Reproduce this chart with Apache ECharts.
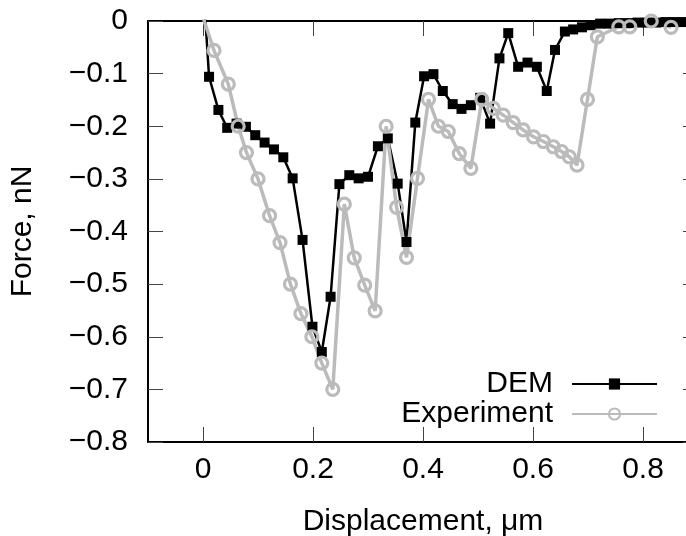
<!DOCTYPE html>
<html>
<head>
<meta charset="utf-8">
<script src="https://cdn.jsdelivr.net/npm/echarts@6/dist/echarts.min.js"></script>
<style>html,body{margin:0;padding:0;background:#fff}#c{width:686px;height:536px}</style>
</head>
<body>
<div id="c"></div>
<script>
var demX = [0.004, 0.011, 0.028, 0.044, 0.061, 0.078, 0.095, 0.112, 0.129, 0.146, 0.163, 0.181, 0.199, 0.216, 0.232, 0.248, 0.266, 0.283, 0.300, 0.318, 0.336, 0.354, 0.370, 0.386, 0.402, 0.419, 0.436, 0.454, 0.470, 0.487, 0.504, 0.522, 0.539, 0.555, 0.573, 0.590, 0.607, 0.625, 0.640, 0.658, 0.673, 0.689, 0.705, 0.722, 0.739, 0.756, 0.773, 0.790, 0.807, 0.824, 0.841, 0.858, 0.875, 0.892];
var demY = [0.01, -0.106, -0.169, -0.203, -0.195, -0.201, -0.217, -0.231, -0.244, -0.259, -0.299, -0.416, -0.581, -0.629, -0.524, -0.310, -0.293, -0.299, -0.296, -0.238, -0.223, -0.309, -0.420, -0.193, -0.105, -0.101, -0.133, -0.158, -0.167, -0.160, -0.146, -0.195, -0.071, -0.023, -0.087, -0.079, -0.087, -0.133, -0.055, -0.020, -0.016, -0.012, -0.008, -0.005, -0.005, -0.004, -0.004, -0.003, -0.003, -0.003, -0.002, -0.002, -0.002, -0.002];
var expX = [-0.001, 0.020, 0.046, 0.064, 0.079, 0.100, 0.121, 0.140, 0.159, 0.178, 0.198, 0.216, 0.236, 0.257, 0.275, 0.294, 0.313, 0.333, 0.352, 0.370, 0.390, 0.410, 0.428, 0.446, 0.466, 0.487, 0.507, 0.528, 0.546, 0.564, 0.582, 0.601, 0.619, 0.637, 0.652, 0.666, 0.680, 0.699, 0.717, 0.756, 0.776, 0.815, 0.851];
var expY = [0.01, -0.056, -0.120, -0.200, -0.250, -0.300, -0.370, -0.421, -0.500, -0.556, -0.600, -0.650, -0.700, -0.348, -0.450, -0.502, -0.551, -0.200, -0.354, -0.449, -0.299, -0.149, -0.200, -0.210, -0.252, -0.280, -0.149, -0.166, -0.179, -0.193, -0.207, -0.220, -0.229, -0.239, -0.248, -0.258, -0.274, -0.149, -0.030, -0.011, -0.011, 0, -0.012];
var xTicks = [0, 0.2, 0.4, 0.6, 0.8];
var seriesNames = ['DEM', 'Experiment'];

function pairs(xs, ys) { return xs.map(function (x, i) { return [x, ys[i]]; }); }
var FONT = 'Liberation Sans';
var FS = 30;
function yfmt(v) { if (Math.abs(v) < 1e-9) return '0'; return '\u2212' + Math.abs(v).toFixed(1); }
function xfmt(v) { if (Math.abs(v) < 1e-9) return '0'; return v.toFixed(1); }
var axisLine = { show: true, onZero: false, lineStyle: { color: '#000', width: 2 } };
var tickStyle = { color: '#444', width: 1 };

var chart = echarts.init(document.getElementById('c'), null, { renderer: 'canvas' });
chart.setOption({
  animation: false,
  backgroundColor: '#fff',
  grid: { left: 148, top: 21, width: 550, height: 421, containLabel: false, outerBoundsMode: 'none' },
  legend: {
    data: seriesNames,
    orient: 'vertical',
    right: 23,
    top: 364,
    align: 'right',
    itemWidth: 85,
    itemHeight: 14,
    itemGap: 0,
    textStyle: { fontFamily: FONT, fontSize: FS, color: '#000', padding: [0, 14, 0, 0] }
  },
  xAxis: [{
    type: 'value', min: -0.1, max: 0.9, position: 'bottom',
    name: 'Displacement, \u03bcm', nameLocation: 'middle', nameGap: 65,
    nameTextStyle: { fontFamily: FONT, fontSize: FS, color: '#000' },
    axisLine: axisLine,
    axisTick: { show: true, inside: true, length: 15, lineStyle: tickStyle, customValues: xTicks },
    axisLabel: { fontFamily: FONT, fontSize: FS, color: '#000', margin: 13, formatter: xfmt, customValues: xTicks },
    splitLine: { show: false }
  }, {
    type: 'value', min: -0.1, max: 0.9, position: 'top',
    axisLine: axisLine,
    axisTick: { show: true, inside: true, length: 15, lineStyle: tickStyle, customValues: xTicks },
    axisLabel: { show: false, customValues: xTicks },
    splitLine: { show: false }
  }],
  yAxis: [{
    type: 'value', min: -0.8, max: 0, interval: 0.1, position: 'left',
    name: 'Force, nN', nameLocation: 'middle', nameGap: 110, nameRotate: 90,
    nameTextStyle: { fontFamily: FONT, fontSize: FS, color: '#000' },
    axisLine: axisLine,
    axisTick: { show: true, inside: true, length: 15, lineStyle: tickStyle },
    axisLabel: { fontFamily: FONT, fontSize: FS, color: '#000', margin: 20, formatter: yfmt },
    splitLine: { show: false }
  }, {
    type: 'value', min: -0.8, max: 0, interval: 0.1, position: 'right',
    axisLine: axisLine,
    axisTick: { show: true, inside: true, length: 15, lineStyle: tickStyle },
    axisLabel: { show: false },
    splitLine: { show: false }
  }],
  series: [{
    name: seriesNames[0], type: 'line', xAxisIndex: 0, yAxisIndex: 0,
    data: pairs(demX, demY),
    symbol: 'rect', symbolSize: 10,
    itemStyle: { color: '#000' },
    lineStyle: { color: '#000', width: 2.5 },
    clip: true
  }, {
    name: seriesNames[1], type: 'line', xAxisIndex: 0, yAxisIndex: 0,
    data: pairs(expX, expY),
    symbol: 'circle', symbolSize: 12,
    itemStyle: { color: 'rgba(0,0,0,0)', borderColor: '#bbbbbb', borderWidth: 3.2 },
    lineStyle: { color: '#bbbbbb', width: 3.5 },
    clip: true
  }]
});
</script>
</body>
</html>
